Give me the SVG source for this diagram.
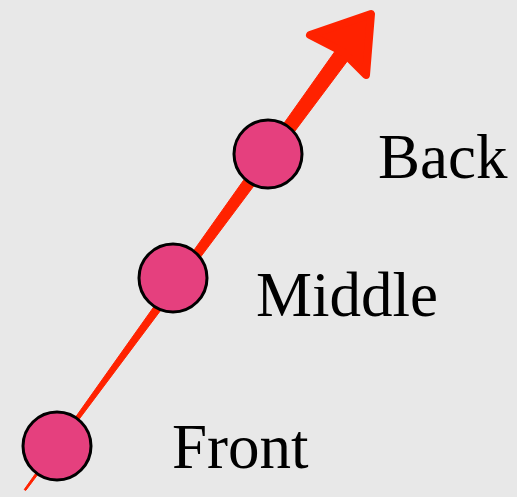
<svg xmlns="http://www.w3.org/2000/svg" width="517" height="497" viewBox="0 0 517 497">
<style>
.node{fill:#e5407e;stroke:#000;stroke-width:3}
.lbl{font-family:"Liberation Serif","Times New Roman",serif;font-size:63px;fill:#000}
.arr{fill:#ff2200;stroke:#ff2200;stroke-linejoin:round}
</style>
<rect width="517" height="497" fill="#e8e8e8"/>
<g id="connectors">
<polygon class="arr" stroke-width="1" points="24.2,489.6 25.8,490.4 350,57.5 337,48.5"/>
<polygon class="arr" stroke-width="8" points="310,35 371,14 366,75 343,52"/>
</g>
<g id="front"><circle class="node" cx="57" cy="446" r="34"/><text class="lbl" x="172" y="468">Front</text></g>
<g id="middle"><circle class="node" cx="173" cy="278" r="34"/><text class="lbl" x="256" y="316">Middle</text></g>
<g id="back"><circle class="node" cx="268" cy="154" r="34"/><text class="lbl" x="378" y="178">Back</text></g>
</svg>
